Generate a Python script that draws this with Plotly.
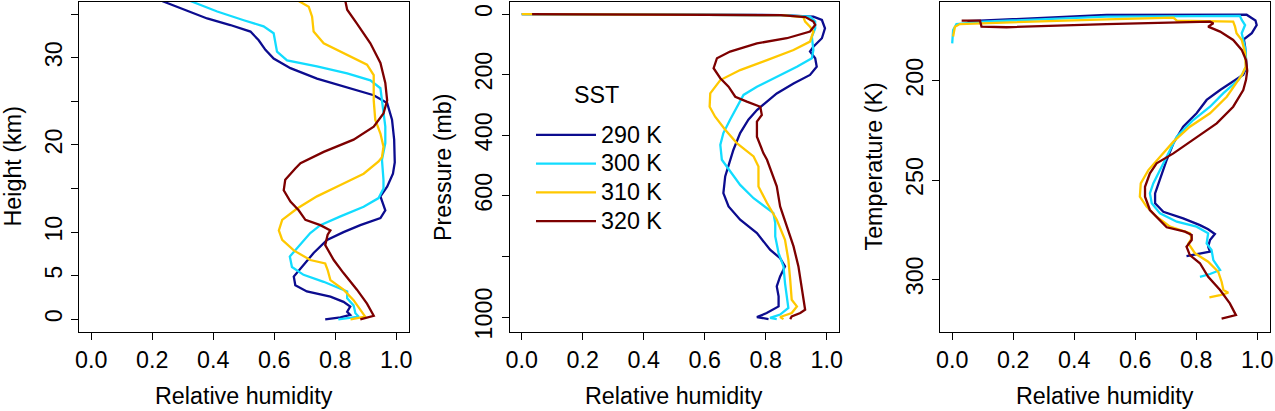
import plotly.graph_objects as go

# ---------------- data ----------------
sst_labels = ["290 K", "300 K", "310 K", "320 K"]
legend_title = "SST"
colors = ["#0c0c8f", "#12dcff", "#ffc800", "#7d0000"]

# Panel 1: relative humidity vs height (km)
rh_h_290 = [0.232, 0.303, 0.380, 0.456, 0.522, 0.549, 0.571, 0.598, 0.653, 0.740, 0.839, 0.926, 0.970, 0.986, 0.993, 0.995, 0.989, 0.970, 0.948, 0.964, 0.948, 0.882, 0.827, 0.773, 0.729, 0.691, 0.664, 0.669, 0.707, 0.784, 0.827, 0.849, 0.839, 0.849, 0.817, 0.767]
z_290 = [36.5, 35.5, 34.5, 33.75, 33.0, 32.0, 30.9, 29.9, 28.8, 27.6, 26.6, 25.7, 24.8, 22.9, 20.6, 18.0, 16.7, 15.2, 14.1, 12.5, 11.6, 10.8, 10.0, 9.1, 7.6, 6.0, 4.9, 3.9, 3.2, 2.6, 2.0, 1.45, 0.87, 0.5, 0.23, 0.0]

rh_h_300 = [0.325, 0.413, 0.500, 0.565, 0.598, 0.604, 0.609, 0.642, 0.740, 0.839, 0.915, 0.948, 0.956, 0.964, 0.964, 0.953, 0.958, 0.958, 0.942, 0.893, 0.817, 0.751, 0.718, 0.680, 0.651, 0.658, 0.696, 0.762, 0.817, 0.839, 0.839, 0.860, 0.866, 0.877, 0.810]
z_300 = [36.5, 35.3, 34.3, 33.6, 32.8, 31.7, 30.7, 29.7, 29.0, 28.2, 27.4, 26.5, 24.4, 22.1, 20.2, 18.3, 16.0, 15.0, 13.9, 12.9, 11.8, 10.8, 9.9, 8.3, 7.2, 6.0, 5.1, 4.3, 3.55, 3.2, 2.4, 1.6, 0.7, 0.3, 0.0]

rh_h_310 = [0.680, 0.713, 0.724, 0.729, 0.762, 0.839, 0.904, 0.926, 0.926, 0.931, 0.948, 0.958, 0.953, 0.942, 0.893, 0.817, 0.740, 0.675, 0.626, 0.615, 0.626, 0.664, 0.718, 0.767, 0.775, 0.784, 0.827, 0.860, 0.882, 0.898, 0.850]
z_310 = [36.5, 35.85, 34.7, 33.0, 31.65, 30.3, 29.2, 28.0, 25.1, 22.9, 21.3, 19.8, 18.6, 18.1, 16.7, 15.4, 14.1, 12.7, 11.4, 10.2, 9.1, 7.9, 6.8, 6.4, 5.65, 4.5, 3.4, 2.2, 1.07, 0.3, 0.0]

rh_h_320 = [0.833, 0.839, 0.871, 0.915, 0.948, 0.964, 0.970, 0.958, 0.926, 0.860, 0.762, 0.686, 0.669, 0.636, 0.631, 0.653, 0.680, 0.702, 0.751, 0.784, 0.775, 0.767, 0.795, 0.827, 0.871, 0.904, 0.926, 0.882]
z_320 = [36.5, 35.5, 33.9, 31.65, 29.4, 27.1, 25.1, 23.6, 22.1, 20.6, 19.2, 17.9, 17.3, 16.0, 14.8, 13.5, 12.5, 11.4, 10.8, 10.2, 9.7, 8.5, 6.8, 5.3, 3.4, 1.8, 0.4, 0.0]

# Panel 2: relative humidity vs pressure (mb)
rh_p_290 = [0.0, 0.3, 0.6, 0.85, 0.956, 0.984, 0.994, 0.984, 0.956, 0.945, 0.962, 0.967, 0.945, 0.891, 0.836, 0.798, 0.771, 0.743, 0.716, 0.694, 0.683, 0.667, 0.661, 0.678, 0.716, 0.771, 0.814, 0.847, 0.863, 0.847, 0.836, 0.842, 0.842, 0.803, 0.771, 0.809]
p_290 = [0.5, 1, 2, 3.5, 8.8, 19.8, 47, 80, 108, 124, 146, 174, 201, 229, 262, 294, 317, 349, 393, 448, 481, 536, 591, 635, 679, 723, 778, 806, 833, 866, 899, 932, 965, 987, 1000, 1007]

rh_p_300 = [0.0, 0.3, 0.6, 0.85, 0.945, 0.962, 0.962, 0.951, 0.956, 0.951, 0.902, 0.836, 0.771, 0.727, 0.705, 0.683, 0.661, 0.651, 0.656, 0.683, 0.716, 0.760, 0.804, 0.825, 0.831, 0.831, 0.842, 0.858, 0.863, 0.869, 0.874, 0.847, 0.814, 0.836]
p_300 = [0.5, 1, 2, 4, 8.8, 25, 47, 75, 119, 146, 174, 207, 240, 267, 306, 349, 393, 432, 481, 520, 564, 608, 641, 657, 690, 734, 789, 833, 888, 943, 970, 992, 1003, 1007]

rh_p_310 = [0.0, 0.3, 0.6, 0.85, 0.923, 0.929, 0.945, 0.956, 0.945, 0.891, 0.804, 0.716, 0.651, 0.618, 0.616, 0.634, 0.667, 0.705, 0.760, 0.776, 0.776, 0.776, 0.804, 0.836, 0.863, 0.874, 0.880, 0.885, 0.902, 0.885, 0.847, 0.858]
p_310 = [0.5, 1, 2, 4, 10, 25, 42, 58, 91, 119, 152, 185, 218, 262, 306, 339, 382, 426, 470, 503, 520, 569, 624, 679, 745, 811, 877, 943, 965, 987, 1000, 1007]

rh_p_320 = [0.034, 0.3, 0.6, 0.85, 0.93, 0.956, 0.962, 0.945, 0.869, 0.771, 0.683, 0.640, 0.629, 0.651, 0.678, 0.700, 0.738, 0.782, 0.787, 0.771, 0.771, 0.792, 0.804, 0.820, 0.836, 0.847, 0.869, 0.891, 0.907, 0.918, 0.923, 0.929, 0.913, 0.885, 0.880]
p_320 = [0.5, 1, 2, 4, 10, 25, 36, 58, 80, 97, 124, 146, 179, 212, 240, 273, 289, 306, 333, 355, 405, 459, 481, 525, 569, 635, 701, 767, 833, 899, 943, 976, 987, 998, 1007]

# Panel 3: relative humidity vs temperature (K)
rh_t_290 = [0.05, 0.091, 0.506, 0.965, 0.994, 0.998, 0.982, 0.956, 0.960, 0.965, 0.954, 0.927, 0.878, 0.834, 0.801, 0.757, 0.725, 0.703, 0.681, 0.665, 0.665, 0.692, 0.757, 0.812, 0.839, 0.861, 0.845, 0.839, 0.845, 0.812, 0.768]
t_290 = [170.0, 169.8, 166.9, 166.8, 169.7, 172.0, 176.1, 179.2, 182.9, 193.0, 197.0, 199.6, 204.7, 209.7, 216.4, 223.2, 231.5, 239.9, 250.0, 256.7, 261.7, 266.0, 269.3, 272.7, 274.8, 277.2, 280.2, 283.6, 286.1, 286.9, 288.3]

rh_t_300 = [0.0, 0.003, 0.014, 0.102, 0.506, 0.943, 0.949, 0.960, 0.949, 0.954, 0.962, 0.963, 0.950, 0.938, 0.889, 0.845, 0.790, 0.736, 0.714, 0.687, 0.659, 0.648, 0.654, 0.681, 0.736, 0.801, 0.839, 0.834, 0.850, 0.856, 0.878, 0.845, 0.812]
t_300 = [181.2, 174.5, 171.5, 170.3, 167.8, 167.4, 169.4, 172.0, 176.1, 179.5, 185.0, 193.0, 197.0, 199.6, 206.3, 213.1, 219.8, 228.2, 234.9, 243.3, 251.7, 256.7, 261.7, 266.8, 271.0, 273.5, 276.8, 281.9, 285.2, 290.3, 295.3, 297.3, 298.7]

rh_t_310 = [0.003, 0.009, 0.025, 0.102, 0.506, 0.725, 0.736, 0.921, 0.927, 0.932, 0.949, 0.960, 0.962, 0.950, 0.938, 0.900, 0.845, 0.779, 0.725, 0.681, 0.643, 0.618, 0.615, 0.637, 0.670, 0.714, 0.779, 0.785, 0.774, 0.796, 0.839, 0.872, 0.883, 0.889, 0.905, 0.878, 0.843]
t_310 = [177.8, 172.8, 171.5, 171.1, 169.1, 168.3, 169.8, 170.3, 172.8, 176.1, 179.5, 186.0, 193.0, 197.0, 199.6, 208.1, 216.4, 223.2, 230.7, 238.3, 245.0, 251.7, 258.4, 263.4, 268.5, 273.5, 276.8, 279.4, 281.9, 286.9, 291.1, 296.2, 301.2, 305.4, 306.7, 307.9, 309.1]

rh_t_320 = [0.031, 0.091, 0.096, 0.178, 0.506, 0.845, 0.856, 0.839, 0.878, 0.921, 0.949, 0.963, 0.967, 0.963, 0.954, 0.921, 0.867, 0.790, 0.725, 0.670, 0.648, 0.632, 0.632, 0.648, 0.692, 0.703, 0.763, 0.785, 0.785, 0.768, 0.779, 0.812, 0.839, 0.878, 0.910, 0.930, 0.883]
t_320 = [169.8, 169.8, 172.8, 173.1, 171.5, 170.3, 171.1, 172.8, 175.3, 179.5, 184.5, 189.6, 195.0, 199.6, 204.7, 213.1, 221.5, 229.9, 236.6, 241.6, 246.6, 253.4, 258.4, 265.1, 271.8, 273.8, 276.0, 277.7, 280.2, 283.6, 287.8, 291.9, 298.7, 305.4, 312.1, 318.0, 319.8]

x_ticks = [0.0, 0.2, 0.4, 0.6, 0.8, 1.0]
x_ticktext = ["0.0", "0.2", "0.4", "0.6", "0.8", "1.0"]
h_ticks = [0, 5, 10, 15, 20, 25, 30, 35]
h_ticktext = ["0", "5", "10", "", "20", "", "30", ""]
p_ticks = [0, 200, 400, 600, 800, 1000]
p_ticktext = ["0", "200", "400", "600", "", "1000"]
t_ticks = [200, 250, 300]
t_ticktext = ["200", "250", "300"]

# ---------------- figure ----------------
W, H = 1275, 411
FONT = "Liberation Sans, Arial, Helvetica, sans-serif"
FS = 23.3
LEG_FS = 19.8   # controls legend row spacing; text itself drawn at FS

def px_x(v):
    return v / W

def px_y(v):
    return (H - v) / H

panel_left = [79.0, 509.5, 940.0]
panel_w = 329.5
box_top, box_bot = 2.0, 332.0

fig = go.Figure()

panels = [
    ([rh_h_290, rh_h_300, rh_h_310, rh_h_320], [z_290, z_300, z_310, z_320]),
    ([rh_p_290, rh_p_300, rh_p_310, rh_p_320], [p_290, p_300, p_310, p_320]),
    ([rh_t_290, rh_t_300, rh_t_310, rh_t_320], [t_290, t_300, t_310, t_320]),
]

for pi, (xs, ys) in enumerate(panels):
    suffix = "" if pi == 0 else str(pi + 1)
    for si in range(4):
        fig.add_trace(go.Scatter(
            x=xs[si], y=ys[si], mode="lines",
            line=dict(color=colors[si], width=2.3),
            name='<span style="font-size:%.1fpx">%s</span>' % (FS, sst_labels[si]),
            showlegend=(pi == 1),
            legendgroup=sst_labels[si],
            xaxis="x" + suffix, yaxis="y" + suffix,
            hoverinfo="skip",
        ))

axis_common = dict(
    showline=True, mirror=True, linecolor="black", linewidth=1,
    ticks="outside", ticklen=7, tickwidth=1, tickcolor="black",
    showgrid=False, zeroline=False, automargin=False,
    tickfont=dict(family=FONT, size=FS, color="black"),
)

y_specs = [
    dict(range=[-1.456, 36.39], tickvals=h_ticks, ticktext=h_ticktext),
    dict(range=[1049.5, -39.6], tickvals=p_ticks, ticktext=p_ticktext),
    dict(range=[326.5, 160.4], tickvals=t_ticks, ticktext=t_ticktext),
]

layout = dict(
    width=W, height=H, autosize=False,
    margin=dict(l=0, r=0, t=0, b=0, autoexpand=False),
    paper_bgcolor="white", plot_bgcolor="white",
    font=dict(family=FONT, size=FS, color="black"),
    showlegend=True,
    legend=dict(
        x=px_x(531), y=px_y(115.5), xanchor="left", yanchor="top",
        bgcolor="rgba(0,0,0,0)", borderwidth=0,
        font=dict(family=FONT, size=LEG_FS, color="black"),
        itemwidth=60, tracegroupgap=0,
    ),
)

for pi in range(3):
    suffix = "" if pi == 0 else str(pi + 1)
    dom = [px_x(panel_left[pi]), px_x(panel_left[pi] + panel_w)]
    layout["xaxis" + suffix] = dict(
        axis_common, domain=dom, range=[-0.04, 1.04],
        tickvals=x_ticks, ticktext=x_ticktext, tickangle=0,
        ticklabelstandoff=0,
        anchor="y" + suffix,
    )
    layout["yaxis" + suffix] = dict(
        axis_common, domain=[px_y(box_bot), px_y(box_top)],
        tickangle=-90, ticklabelstandoff=0,
        anchor="x" + suffix, **y_specs[pi],
    )

fig.update_layout(**layout)

# legend title (placed like R's legend title, centred above the entries)
fig.add_annotation(
    x=px_x(596.7), y=px_y(95), xref="paper", yref="paper",
    text=legend_title, showarrow=False, xanchor="center", yanchor="middle",
    font=dict(family=FONT, size=FS, color="black"),
)

y_titles = ["Height (km)", "Pressure (mb)", "Temperature (K)"]
for pi in range(3):
    cx = panel_left[pi] + panel_w / 2
    fig.add_annotation(
        x=px_x(cx), y=px_y(396), xref="paper", yref="paper",
        text="Relative humidity", showarrow=False,
        xanchor="center", yanchor="middle",
        font=dict(family=FONT, size=FS, color="black"),
    )
    fig.add_annotation(
        x=px_x(panel_left[pi] - 66.5), y=px_y(167), xref="paper", yref="paper",
        text=y_titles[pi], showarrow=False, textangle=-90,
        xanchor="center", yanchor="middle",
        font=dict(family=FONT, size=FS, color="black"),
    )

fig.write_html(
    "out.html",
    config={"displayModeBar": False},
    post_script="document.body.style.margin='0';document.body.style.overflow='hidden';",
)
